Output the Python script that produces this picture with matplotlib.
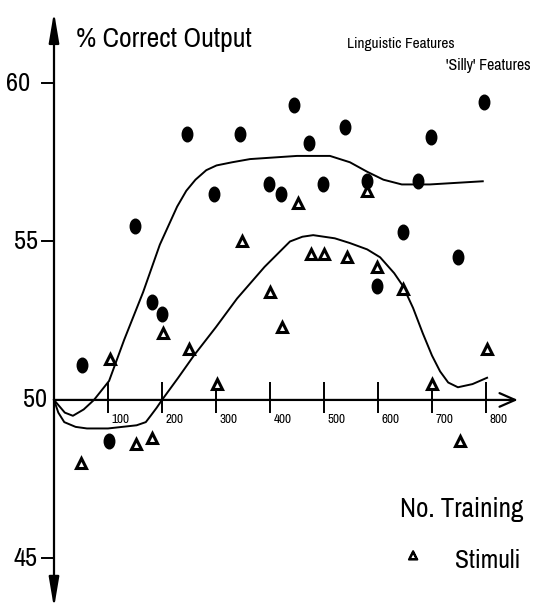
import numpy as np
import matplotlib
matplotlib.use('Agg')
import matplotlib.pyplot as plt
import matplotlib.patheffects as pe
from matplotlib.path import Path


# linguistic features (filled dots)
ling_x = [52, 102, 150, 181, 200, 246, 296, 344, 398, 420, 444, 472, 498, 539, 580, 598, 646, 674, 698, 748, 796]
ling_y = [51.1, 48.7, 55.5, 53.1, 52.7, 58.4, 56.5, 58.4, 56.8, 56.5, 59.3, 58.1, 56.8, 58.6, 56.9, 53.6, 55.3, 56.9, 58.3, 54.5, 59.4]

# "silly" features (triangles)
silly_x = [50, 103, 151, 182, 202, 250, 301, 348, 400, 422, 451, 476, 500, 543, 580, 598, 646, 700, 752, 802]
silly_y = [48.0, 51.3, 48.6, 48.8, 52.1, 51.6, 50.5, 55.0, 53.4, 52.3, 56.2, 54.6, 54.6, 54.5, 56.6, 54.2, 53.5, 50.5, 48.7, 51.6]

# hand-fitted curves
ling_curve_x = [0, 20, 35, 55, 74, 102, 130, 165, 196, 228, 245, 262, 282, 301, 330, 363, 450, 511, 548, 580, 610, 644, 696, 794]
ling_curve_y = [50.0, 49.6, 49.5, 49.7, 50.0, 50.6, 51.9, 53.4, 54.9, 56.1, 56.6, 56.95, 57.25, 57.4, 57.5, 57.6, 57.7, 57.7, 57.5, 57.2, 56.95, 56.8, 56.8, 56.9]

silly_curve_x = [0, 8, 19, 40, 61, 100, 153, 170, 179, 190, 200, 230, 259, 300, 339, 390, 437, 460, 480, 520, 548, 580, 604, 630, 646, 665, 683, 700, 715, 730, 748, 775, 802]
silly_curve_y = [50.0, 49.6, 49.3, 49.15, 49.1, 49.1, 49.2, 49.3, 49.5, 49.75, 50.0, 50.7, 51.4, 52.3, 53.2, 54.2, 55.0, 55.15, 55.2, 55.1, 54.95, 54.75, 54.5, 54.0, 53.6, 52.9, 52.1, 51.4, 50.9, 50.55, 50.4, 50.5, 50.7]

x_ticks = [100, 200, 300, 400, 500, 600, 700, 800]
y_ticks = [45, 50, 55, 60]

narrow = ['Archivo Narrow', 'Liberation Sans', 'DejaVu Sans']

fig = plt.figure(figsize=(5.38, 6.11), dpi=100)
ax = fig.add_axes([0, 0, 1, 1])
ax.set_xlim(-100, 896.3)
ax.set_ylim(43.34, 62.62)
ax.axis('off')

# axes with arrows
ax.annotate('', xy=(0, 62.24), xytext=(0, 50),
            arrowprops=dict(arrowstyle='-|>,head_length=1.3,head_width=0.22', lw=1.6, color='black',
                            shrinkA=0, shrinkB=0, mutation_scale=14))
ax.annotate('', xy=(0, 43.44), xytext=(0, 50),
            arrowprops=dict(arrowstyle='-|>,head_length=1.3,head_width=0.22', lw=1.6, color='black',
                            shrinkA=0, shrinkB=0, mutation_scale=14))
ax.annotate('', xy=(859, 50), xytext=(0, 50),
            arrowprops=dict(arrowstyle='->,head_length=0.8,head_width=0.35', lw=1.6, color='black',
                            shrinkA=0, shrinkB=0, mutation_scale=14))

# x ticks
ax.vlines(x_ticks, 49.59, 50.57, color='black', lw=1.4)
for t in x_ticks:
    ax.text(t + 7, 49.55, str(t), ha='left', va='top', fontsize=9.5, family=narrow)

# y ticks
label_right = {60: -44, 55: -30, 50: -13, 45: -30}
for t in y_ticks:
    if t != 50:
        ax.plot([-22, 0], [t, t], color='black', lw=1.4)
    ax.text(label_right[t], t, str(t), ha='right', va='center', fontsize=19, family=narrow)

# curves
ax.plot(ling_curve_x, ling_curve_y, color='black', lw=1.4)
ax.plot(silly_curve_x, silly_curve_y, color='black', lw=1.4)

# points
circ = Path.unit_circle()
oval = Path(circ.vertices * np.array([0.72, 1.0]), circ.codes)
ax.plot(ling_x, ling_y, linestyle='none', marker=oval, markersize=10.5,
        markerfacecolor='black', markeredgecolor='black', zorder=3)
ax.plot(silly_x, silly_y, linestyle='none', marker='^', markersize=7.5,
        markerfacecolor='white', markeredgecolor='black', markeredgewidth=2.2, zorder=4)

# texts
ax.text(40.7, 61.14, '% Correct Output', ha='left', va='baseline', fontsize=20, family=narrow)
ax.text(542, 61.1, 'Linguistic Features', ha='left', va='baseline', fontsize=11, fontweight='medium', family=narrow)
ax.text(726, 60.4, "'Silly' Features", ha='left', va='baseline', fontsize=11.5, fontweight='medium', family=narrow)
ax.text(640, 46.3, 'No. Training', ha='left', va='baseline', fontsize=19.5, family=narrow)
ax.text(742, 44.7, 'Stimuli', ha='left', va='baseline', fontsize=18.5, family=narrow)
ax.text(665, 45.1, '\u25b3', ha='center', va='center', fontsize=8, fontweight='bold', family=['DejaVu Sans'],
        path_effects=[pe.withStroke(linewidth=1.4, foreground='black')])

fig.savefig('out.png', dpi=100)
